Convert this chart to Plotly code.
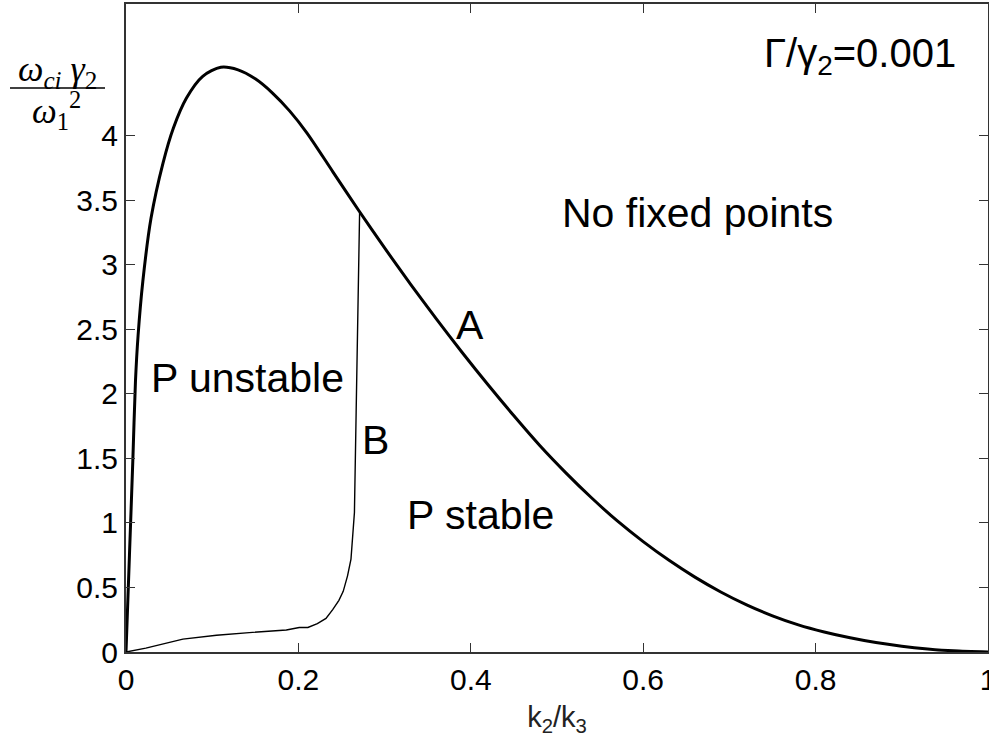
import plotly.graph_objects as go

# Curve A (outer boundary, thick)
a_x = [0.0, 0.004, 0.008, 0.011, 0.014, 0.0195, 0.029, 0.043, 0.055, 0.070, 0.089, 0.110,
       0.130, 0.150, 0.170, 0.190, 0.210, 0.240, 0.270, 0.300, 0.330, 0.360, 0.390,
       0.420, 0.450, 0.480, 0.510, 0.540, 0.570, 0.600, 0.630, 0.660, 0.690, 0.720,
       0.750, 0.780, 0.810, 0.840, 0.870, 0.900, 0.930, 0.960, 1.0]
a_y = [0.0, 0.75, 1.50, 2.10, 2.45, 2.87, 3.36, 3.79, 4.06, 4.29, 4.46, 4.53,
       4.51, 4.44, 4.33, 4.19, 4.02, 3.72, 3.42, 3.13, 2.85, 2.58, 2.32,
       2.07, 1.83, 1.60, 1.39, 1.195, 1.015, 0.855, 0.71, 0.58, 0.465, 0.365,
       0.28, 0.21, 0.155, 0.11, 0.073, 0.045, 0.024, 0.009, 0.0]

# Curve B (stability boundary, thin)
b_x = [0.0, 0.023, 0.066, 0.105, 0.143, 0.186, 0.201, 0.211, 0.222, 0.232, 0.240, 0.247,
       0.252, 0.257, 0.261, 0.263, 0.265, 0.267, 0.269, 0.271]
b_y = [0.0, 0.03, 0.10, 0.13, 0.15, 0.17, 0.19, 0.19, 0.22, 0.26, 0.33, 0.40,
       0.47, 0.59, 0.72, 0.89, 1.08, 1.86, 2.63, 3.40]

x_ticks = [0, 0.2, 0.4, 0.6, 0.8, 1]
x_tick_labels = ["0", "0.2", "0.4", "0.6", "0.8", "1"]
y_ticks = [0, 0.5, 1, 1.5, 2, 2.5, 3, 3.5, 4]
y_tick_labels = ["0", "0.5", "1", "1.5", "2", "2.5", "3", "3.5", "4"]

fig = go.Figure()
fig.add_trace(go.Scatter(x=b_x, y=b_y, mode="lines",
                         line=dict(color="black", width=1.4), showlegend=False))
fig.add_trace(go.Scatter(x=a_x, y=a_y, mode="lines", line_shape="spline",
                         line=dict(color="black", width=3, smoothing=0.8),
                         showlegend=False))

L, R, T, B = 126, 1, 4, 94
W, H = 989, 746
pw, ph = W - L - R, H - T - B


def px(x):
    return (x - L) / pw


def py(y):
    return (H - B - y) / ph


sans = "Liberation Sans, Arial, sans-serif"
serif = "Liberation Serif, Times New Roman, serif"
lbl = dict(family=sans, size=41, color="black")

annotations = [
    dict(x=0.851, y=4.62, xref="x", yref="y", text="Γ/γ<sub>2</sub>=0.001", showarrow=False,
         font=dict(family=sans, size=40, color="black"), xanchor="center", yanchor="middle"),
    dict(x=0.663, y=3.40, xref="x", yref="y", text="No fixed points", showarrow=False, font=lbl),
    dict(x=0.399, y=2.53, xref="x", yref="y", text="A", showarrow=False, font=lbl),
    dict(x=0.1415, y=2.12, xref="x", yref="y", text="P unstable", showarrow=False, font=lbl),
    dict(x=0.289, y=1.64, xref="x", yref="y", text="B", showarrow=False, font=lbl),
    dict(x=0.411, y=1.06, xref="x", yref="y", text="P stable", showarrow=False, font=lbl),
    dict(x=px(57), y=py(71), xref="paper", yref="paper", xanchor="center", yanchor="middle",
         text="<i>ω</i><sub><i>ci</i></sub> <i>γ</i><sub>2</sub>", showarrow=False,
         font=dict(family=serif, size=36, color="black")),
    dict(x=px(56), y=py(111), xref="paper", yref="paper", xanchor="center", yanchor="middle",
         text="<i>ω</i><sub>1</sub><sup>2</sup>", showarrow=False,
         font=dict(family=serif, size=35, color="black")),
]

fig.update_layout(
    width=W, height=H,
    margin=dict(l=L, r=R, t=T, b=B, pad=0, autoexpand=False),
    plot_bgcolor="white", paper_bgcolor="white",
    annotations=annotations,
    shapes=[dict(type="line", xref="paper", yref="paper", x0=px(10), x1=px(105),
                 y0=py(88), y1=py(88), line=dict(color="black", width=1.5))],
    xaxis=dict(range=[0, 1], tickvals=x_ticks, ticktext=x_tick_labels,
               ticks="inside", ticklen=9, tickwidth=1.3, tickcolor="#333",
               showline=True, linecolor="#333", linewidth=2, mirror="ticks",
               showgrid=False, zeroline=False, ticklabeloverflow="allow",
               automargin=False,
               tickfont=dict(family=sans, size=30, color="black"),
               title=dict(text="k<sub>2</sub>/k<sub>3</sub>", standoff=12,
                          font=dict(family=sans, size=29, color="#222"))),
    yaxis=dict(range=[0, 5.02], tickvals=y_ticks, ticktext=y_tick_labels,
               ticks="inside", ticklen=9, tickwidth=1.3, tickcolor="#333",
               showline=True, linecolor="#333", linewidth=2, mirror="ticks",
               showgrid=False, zeroline=False, automargin=False,
               tickfont=dict(family=sans, size=30, color="black")),
)

fig.write_html("out.html")
